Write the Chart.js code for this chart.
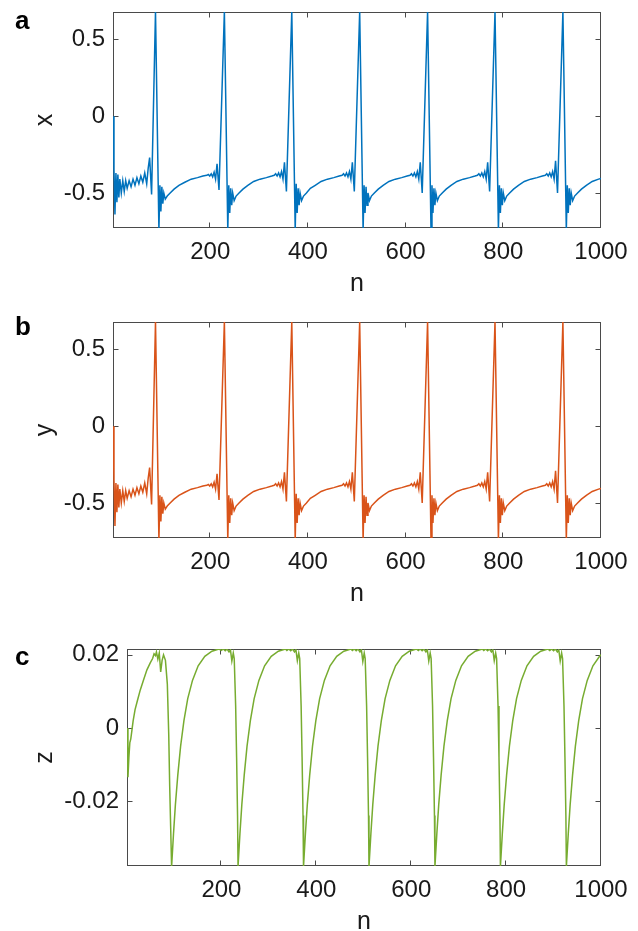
<!DOCTYPE html>
<html>
<head>
<meta charset="utf-8">
<script src="https://cdn.jsdelivr.net/npm/chart.js@4.4.1/dist/chart.umd.min.js"></script>
<style>
  html, body { margin: 0; padding: 0; background: #fff; }
  #wrap { position: relative; width: 638px; height: 931px; overflow: hidden; }
  canvas { position: absolute; left: 0; }
</style>
</head>
<body>
<div id="wrap">
  <canvas id="panelA" width="638" height="300" style="top:0px"></canvas>
  <canvas id="panelB" width="638" height="300" style="top:310px"></canvas>
  <canvas id="panelC" width="638" height="311" style="top:620px"></canvas>
</div>
<script>
// sample index n for the x and y traces
const nXY = [
  1, 3, 5, 7, 9, 11, 13, 15, 18, 21, 24, 27, 30, 34, 38, 42, 46, 50, 54, 58, 62, 66, 70, 73, 76, 80,
  88, 95, 97, 99, 101, 103, 105, 108, 112, 118, 126, 136, 148, 161, 174, 185,
  193, 196, 199, 202, 205, 208, 211, 214, 218,
  229, 236, 238, 240, 242, 244, 246, 249, 253, 259, 267, 277, 289, 302, 315, 326,
  331, 334, 337, 340, 343, 346, 349, 352, 356,
  367, 374, 376, 378, 380, 382, 384, 387, 391, 397, 405, 415, 427, 440, 453, 464,
  470, 473, 476, 479, 482, 485, 488, 491, 495,
  506, 513, 515, 517, 519, 521, 523, 526, 530, 536, 544, 554, 566, 579, 592, 603,
  609, 612, 615, 618, 621, 624, 627, 630, 634,
  645, 652, 654, 656, 658, 660, 662, 665, 669, 675, 683, 693, 705, 718, 731, 742,
  747, 750, 753, 756, 759, 762, 765, 768, 772,
  783, 790, 792, 794, 796, 798, 800, 803, 807, 813, 821, 831, 843, 856, 869, 880,
  886, 889, 892, 895, 898, 901, 904, 907, 911,
  922, 929, 931, 933, 935, 937, 939, 942, 946, 952, 960, 970, 982, 995, 1000
];
const xVals = [
  0.0, -0.35, -0.64, -0.37, -0.56, -0.38, -0.53, -0.41, -0.50, -0.42, -0.49, -0.42, -0.47, -0.42, -0.46, -0.41, -0.45, -0.40, -0.44, -0.39, -0.43, -0.37, -0.44, -0.34, -0.27, -0.51,
  0.68, -0.74, -0.45, -0.62, -0.46, -0.57, -0.50, -0.54, -0.52, -0.50, -0.475, -0.45, -0.43, -0.41, -0.40, -0.39,
  -0.385, -0.38, -0.39, -0.375, -0.395, -0.365, -0.41, -0.31, -0.48,
  0.68, -0.74, -0.45, -0.63, -0.47, -0.58, -0.50, -0.55, -0.52, -0.50, -0.475, -0.45, -0.425, -0.41, -0.40, -0.39,
  -0.385, -0.375, -0.39, -0.37, -0.395, -0.36, -0.41, -0.30, -0.49,
  0.68, -0.74, -0.44, -0.63, -0.47, -0.58, -0.50, -0.55, -0.52, -0.50, -0.47, -0.45, -0.425, -0.41, -0.40, -0.39,
  -0.385, -0.375, -0.39, -0.37, -0.395, -0.36, -0.41, -0.30, -0.49,
  0.68, -0.74, -0.45, -0.63, -0.46, -0.58, -0.50, -0.55, -0.52, -0.50, -0.475, -0.45, -0.425, -0.41, -0.40, -0.39,
  -0.385, -0.375, -0.39, -0.37, -0.395, -0.36, -0.41, -0.30, -0.50,
  0.68, -0.74, -0.45, -0.63, -0.47, -0.58, -0.50, -0.55, -0.52, -0.50, -0.475, -0.45, -0.425, -0.41, -0.40, -0.39,
  -0.385, -0.375, -0.39, -0.37, -0.395, -0.36, -0.41, -0.30, -0.49,
  0.68, -0.74, -0.45, -0.63, -0.47, -0.58, -0.50, -0.55, -0.52, -0.50, -0.475, -0.45, -0.425, -0.41, -0.40, -0.39,
  -0.385, -0.375, -0.39, -0.37, -0.395, -0.36, -0.41, -0.29, -0.50,
  0.68, -0.74, -0.45, -0.63, -0.47, -0.58, -0.50, -0.55, -0.52, -0.50, -0.475, -0.45, -0.425, -0.41, -0.405
];
const yVals = [
  0.0, -0.35, -0.65, -0.37, -0.56, -0.38, -0.53, -0.41, -0.50, -0.42, -0.49, -0.42, -0.47, -0.42, -0.46, -0.41, -0.45, -0.40, -0.44, -0.39, -0.43, -0.37, -0.44, -0.34, -0.27, -0.51,
  0.68, -0.74, -0.45, -0.62, -0.46, -0.57, -0.50, -0.54, -0.52, -0.50, -0.475, -0.45, -0.43, -0.41, -0.40, -0.39,
  -0.385, -0.38, -0.39, -0.375, -0.395, -0.365, -0.41, -0.31, -0.48,
  0.68, -0.74, -0.45, -0.63, -0.47, -0.58, -0.50, -0.55, -0.52, -0.50, -0.475, -0.45, -0.425, -0.41, -0.40, -0.39,
  -0.385, -0.375, -0.39, -0.37, -0.395, -0.36, -0.41, -0.30, -0.49,
  0.68, -0.74, -0.44, -0.63, -0.47, -0.58, -0.50, -0.55, -0.52, -0.50, -0.47, -0.45, -0.425, -0.41, -0.40, -0.39,
  -0.385, -0.375, -0.39, -0.37, -0.395, -0.36, -0.41, -0.30, -0.49,
  0.68, -0.74, -0.45, -0.63, -0.46, -0.58, -0.50, -0.55, -0.52, -0.50, -0.475, -0.45, -0.425, -0.41, -0.40, -0.39,
  -0.385, -0.375, -0.39, -0.37, -0.395, -0.36, -0.41, -0.30, -0.50,
  0.68, -0.74, -0.45, -0.63, -0.47, -0.58, -0.50, -0.55, -0.52, -0.50, -0.475, -0.45, -0.425, -0.41, -0.40, -0.39,
  -0.385, -0.375, -0.39, -0.37, -0.395, -0.36, -0.41, -0.30, -0.49,
  0.68, -0.74, -0.45, -0.63, -0.47, -0.58, -0.50, -0.55, -0.52, -0.50, -0.475, -0.45, -0.425, -0.41, -0.40, -0.39,
  -0.385, -0.375, -0.39, -0.37, -0.395, -0.36, -0.41, -0.29, -0.50,
  0.68, -0.74, -0.45, -0.63, -0.47, -0.58, -0.50, -0.55, -0.52, -0.50, -0.475, -0.45, -0.425, -0.41, -0.405
];
// sample index n for the z trace
const nZ = [
  1, 3, 5, 7, 9, 11, 14, 18, 23, 29, 36, 43, 50, 55, 58, 61, 63, 66, 69, 72, 75, 78, 82, 86, 89, 91, 93,
  95, 99, 103, 108, 114, 121, 129, 139, 151, 165, 180, 195,
  200, 204, 208, 212, 216, 219, 222, 225, 227, 230, 232, 234,
  235, 239, 243, 248, 254, 261, 269, 279, 291, 305, 320, 335,
  338, 342, 346, 350, 354, 357, 360, 363, 365, 368, 370, 372,
  373, 377, 381, 386, 392, 399, 407, 417, 429, 443, 458, 473,
  476, 480, 484, 488, 492, 495, 498, 501, 503, 506, 508, 510,
  511, 515, 519, 524, 530, 537, 545, 555, 567, 581, 596, 611,
  615, 619, 623, 627, 631, 634, 637, 640, 642, 645, 647, 649,
  650, 654, 658, 663, 669, 676, 684, 694, 706, 720, 735, 750,
  753, 757, 761, 765, 769, 772, 775, 778, 780, 783, 785, 787,
  788, 792, 796, 801, 807, 814, 822, 832, 844, 858, 873, 888,
  892, 896, 900, 904, 908, 911, 914, 917, 919, 922, 924, 926,
  927, 931, 935, 940, 946, 953, 961, 971, 983, 997, 1000
];
const zVals = [
  0.0, -0.0135, -0.008, -0.004, -0.003, -0.001, 0.002, 0.005, 0.0075, 0.0104, 0.0132, 0.0159, 0.0178, 0.019, 0.0203, 0.0198, 0.0208, 0.0188, 0.0205, 0.0153, 0.0185, 0.0200, 0.0185, 0.012, -0.002, -0.016, -0.027,
  -0.038, -0.029, -0.021, -0.013, -0.005, 0.002, 0.008, 0.013, 0.017, 0.0196, 0.021, 0.0216,
  0.0212, 0.0216, 0.0211, 0.0216, 0.0208, 0.0214, 0.0183, 0.0205, 0.019, 0.006, -0.008, -0.024,
  -0.038, -0.029, -0.021, -0.013, -0.005, 0.002, 0.008, 0.013, 0.017, 0.0196, 0.021, 0.0216,
  0.0212, 0.0216, 0.0211, 0.0216, 0.0208, 0.0214, 0.0184, 0.0205, 0.019, 0.006, -0.008, -0.024,
  -0.038, -0.029, -0.021, -0.013, -0.005, 0.002, 0.008, 0.013, 0.017, 0.0196, 0.021, 0.0216,
  0.0212, 0.0216, 0.0211, 0.0216, 0.0208, 0.0214, 0.0182, 0.0205, 0.019, 0.006, -0.008, -0.024,
  -0.038, -0.029, -0.021, -0.013, -0.005, 0.002, 0.008, 0.013, 0.017, 0.0196, 0.021, 0.0216,
  0.0212, 0.0216, 0.0211, 0.0216, 0.0208, 0.0214, 0.0183, 0.0205, 0.019, 0.006, -0.008, -0.024,
  -0.038, -0.029, -0.021, -0.013, -0.005, 0.002, 0.008, 0.013, 0.017, 0.0196, 0.021, 0.0216,
  0.0212, 0.0216, 0.0211, 0.0216, 0.0208, 0.0214, 0.0184, 0.0205, 0.019, 0.006, -0.008, -0.024,
  -0.038, -0.029, -0.021, -0.013, -0.005, 0.002, 0.008, 0.013, 0.017, 0.0196, 0.021, 0.0216,
  0.0212, 0.0216, 0.0211, 0.0216, 0.0208, 0.0214, 0.0183, 0.0205, 0.019, 0.006, -0.008, -0.024,
  -0.038, -0.029, -0.021, -0.013, -0.005, 0.002, 0.008, 0.013, 0.017, 0.0196, 0.0200
];
const nTicks = [200, 400, 600, 800, 1000];
const xyTicks = [-0.5, 0, 0.5];
const zTicks = [-0.02, 0, 0.02];

Chart.defaults.font.family = '"Liberation Sans", Arial, Helvetica, sans-serif';
Chart.defaults.color = '#1a1a1a';

// MATLAB style box with inward ticks on all four sides, plus the panel letter
const matlabFrame = {
  id: 'matlabFrame',
  beforeDatasetsDraw(chart) {
    const {ctx, chartArea: a, scales} = chart;
    const L = Math.round(a.left) + 0.5, R = Math.round(a.right) - 0.5;
    const T = Math.round(a.top) + 0.5, B = Math.round(a.bottom) - 0.5;
    ctx.save();
    ctx.strokeStyle = '#4a4a4a';
    ctx.lineWidth = 1;
    ctx.beginPath();
    scales.x.ticks.forEach(t => {
      const px = Math.round(scales.x.getPixelForValue(t.value)) - 0.5;
      ctx.moveTo(px, B); ctx.lineTo(px, B - 5);
      ctx.moveTo(px, T); ctx.lineTo(px, T + 5);
    });
    scales.y.ticks.forEach(t => {
      const py = Math.round(scales.y.getPixelForValue(t.value)) + 0.5;
      ctx.moveTo(L, py); ctx.lineTo(L + 5, py);
      ctx.moveTo(R, py); ctx.lineTo(R - 5, py);
    });
    ctx.stroke();
    ctx.strokeRect(L, T, R - L, B - T);
    ctx.restore();
  },
  afterDraw(chart, args, opts) {
    const ctx = chart.ctx;
    ctx.save();
    ctx.font = 'bold 26px "Liberation Sans", Arial, sans-serif';
    ctx.fillStyle = '#000';
    ctx.textBaseline = 'alphabetic';
    ctx.fillText(opts.letter, 15, opts.letterY);
    ctx.restore();
  }
};

function makePanel(id, nArr, vals, color, yMin, yMax, yTicks, yTitle, letter, letterY, dims) {
  const points = nArr.map((n, i) => ({x: n, y: vals[i]}));
  new Chart(document.getElementById(id), {
    type: 'line',
    data: {
      datasets: [{
        data: points,
        borderColor: color,
        borderWidth: 1.5,
        pointRadius: 0,
        tension: 0,
        fill: false,
        clip: 0
      }]
    },
    options: {
      responsive: false,
      animation: false,
      events: [],
      layout: {padding: {top: dims.top, right: 37, left: 0, bottom: 0}},
      plugins: {
        legend: {display: false},
        tooltip: {enabled: false},
        matlabFrame: {letter: letter, letterY: letterY}
      },
      scales: {
        x: {
          type: 'linear',
          min: 1,
          max: 1000,
          grid: {display: false, drawTicks: false},
          border: {display: false},
          afterBuildTicks: s => { s.ticks = nTicks.map(v => ({value: v})); },
          afterFit: s => { s.height = dims.xh; s.paddingLeft = 0; s.paddingRight = 0; },
          ticks: {font: {size: 24}, padding: 10, maxRotation: 0, callback: v => String(v)},
          title: {display: true, text: 'n', font: {size: 25, lineHeight: 0.6}, padding: {top: 0, bottom: dims.nb}}
        },
        y: {
          min: yMin,
          max: yMax,
          grid: {display: false, drawTicks: false},
          border: {display: false},
          afterBuildTicks: s => { s.ticks = yTicks.map(v => ({value: v})); },
          afterFit: s => { s.width = dims.yw; s.paddingTop = 0; s.paddingBottom = 0; },
          ticks: {font: {size: 24}, padding: 8, callback: v => String(v)},
          title: {display: true, text: yTitle, font: {size: 25, lineHeight: 1}, padding: {top: 33, bottom: 0}}
        }
      }
    },
    plugins: [matlabFrame]
  });
}

makePanel('panelA', nXY, xVals, '#0072BD', -0.728, 0.678, xyTicks, 'x', 'a', 29,
  {top: 12, xh: 72, yw: 113, nb: 8});
makePanel('panelB', nXY, yVals, '#D95319', -0.728, 0.678, xyTicks, 'y', 'b', 25,
  {top: 12, xh: 72, yw: 113, nb: 8});
makePanel('panelC', nZ, zVals, '#77AC30', -0.0378, 0.0216, zTicks, 'z', 'c', 45,
  {top: 29, xh: 65, yw: 127, nb: 1});
</script>
</body>
</html>
